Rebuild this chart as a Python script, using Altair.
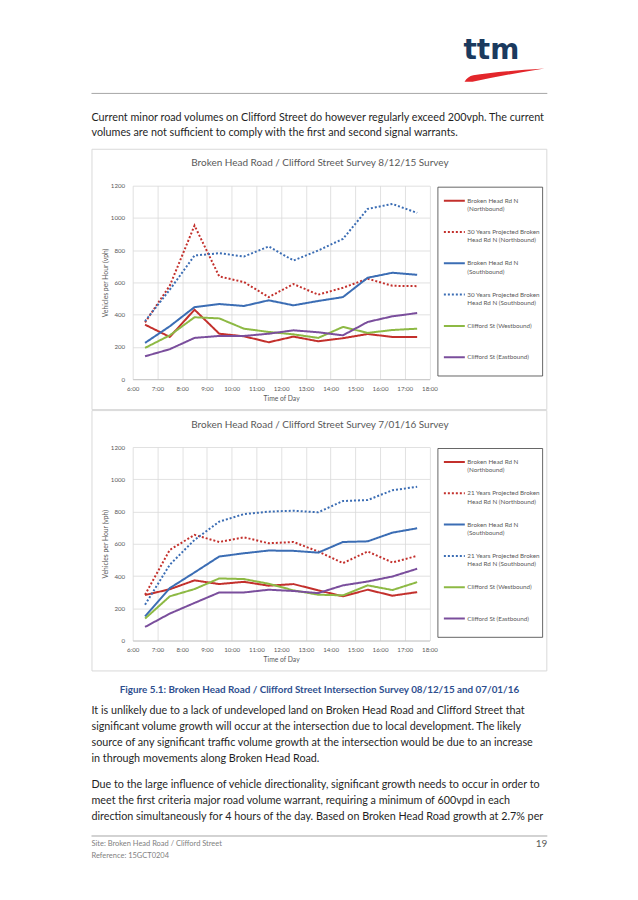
import altair as alt
import pandas as pd

# ---------------- data ----------------
times = [6.5, 7.5, 8.5, 9.5, 10.5, 11.5, 12.5, 13.5, 14.5, 15.5, 16.5, 17.5]
hour_ticks = list(range(6, 19))
vph_ticks = [0, 200, 400, 600, 800, 1000, 1200]

# Survey 8/12/15
s1_nb = [338, 262, 431, 282, 266, 229, 264, 235, 254, 280, 262, 262]
s1_nb_proj = [352, 580, 953, 637, 602, 509, 590, 524, 567, 623, 579, 577]
s1_sb = [225, 328, 447, 466, 454, 489, 458, 485, 509, 629, 660, 647]
s1_sb_proj = [360, 555, 767, 781, 761, 823, 736, 798, 870, 1056, 1087, 1031]
s1_wb = [194, 272, 384, 377, 313, 293, 278, 256, 324, 287, 305, 313]
s1_eb = [142, 186, 256, 268, 268, 282, 303, 291, 272, 355, 390, 410]

# Survey 7/01/16
s2_nb = [282, 318, 373, 350, 364, 340, 350, 311, 274, 315, 278, 300]
s2_nb_proj = [284, 562, 655, 611, 640, 603, 611, 552, 480, 552, 484, 525]
s2_sb = [150, 325, 422, 521, 541, 558, 556, 545, 611, 615, 669, 696]
s2_sb_proj = [222, 470, 624, 737, 784, 799, 805, 795, 865, 871, 932, 953]
s2_wb = [136, 274, 319, 385, 381, 352, 311, 284, 280, 342, 313, 362]
s2_eb = [84, 167, 233, 298, 298, 315, 307, 294, 342, 366, 397, 445]

names_1 = ["Broken Head Rd N|(Northbound)", "30 Years Projected Broken|Head Rd N (Northbound)",
           "Broken Head Rd N|(Southbound)", "30 Years Projected Broken|Head Rd N (Southbound)",
           "Clifford St (Westbound)|", "Clifford St (Eastbound)|"]
names_2 = ["Broken Head Rd N|(Northbound)", "21 Years Projected Broken|Head Rd N (Northbound)",
           "Broken Head Rd N|(Southbound)", "21 Years Projected Broken|Head Rd N (Southbound)",
           "Clifford St (Westbound)|", "Clifford St (Eastbound)|"]

title_1 = "Broken Head Road / Clifford Street Survey 8/12/15 Survey"
title_2 = "Broken Head Road / Clifford Street Survey 7/01/16 Survey"

header_lines = [
    "Current minor road volumes on Clifford Street do however regularly exceed 200vph. The current",
    "volumes are not sufficient to comply with the first and second signal warrants.",
]
caption = "Figure 5.1: Broken Head Road / Clifford Street Intersection Survey 08/12/15 and 07/01/16"
para1 = [
    "It is unlikely due to a lack of undeveloped land on Broken Head Road and Clifford Street that",
    "significant volume growth will occur at the intersection due to local development. The likely",
    "source of any significant traffic volume growth at the intersection would be due to an increase",
    "in through movements along Broken Head Road.",
]
para2 = [
    "Due to the large influence of vehicle directionality, significant growth needs to occur in order to",
    "meet the first criteria major road volume warrant, requiring a minimum of 600vpd in each",
    "direction simultaneously for 4 hours of the day. Based on Broken Head Road growth at 2.7% per",
]
footer_site = "Site: Broken Head Road / Clifford Street"
footer_ref = "Reference: 15GCT0204"
page_no = "19"

# ---------------- styles / layout ----------------
COLORS = ["#C3302C", "#C3302C", "#3B6DB4", "#3B6DB4", "#8DB944", "#7A4E9C"]
DASHES = [[1, 0], [2, 2], [1, 0], [2, 2], [1, 0], [1, 0]]
FONT = "Lato"
GREY = "#595959"
BODY = 10.8
PAGE_W = 622
PX, PY = 124.3, 37          # plot origin inside a chart panel (svg px)
PW, PH = 297.6, 194         # plot size
one = alt.Data(values=[{}])


def px(page_x):
    """page x -> x relative to the shared column origin"""
    return page_x - 8 - PX


def vtext(txt, x, y, size, color="#1f1f1f", align="left", weight="normal", font=FONT, baseline="middle"):
    return alt.Chart(one).mark_text(
        font=font, fontSize=size, color=color, align=align, fontWeight=weight, baseline=baseline
    ).encode(x=alt.value(x), y=alt.value(y), text=alt.value(txt))


def vrule(x1, x2, y, color):
    return alt.Chart(one).mark_rule(color=color, strokeWidth=1).encode(
        x=alt.value(x1), x2=alt.value(x2), y=alt.value(y))


def vrect(x1, x2, y1, y2, **kw):
    return alt.Chart(one).mark_rect(**kw).encode(
        x=alt.value(x1), x2=alt.value(x2), y=alt.value(y1), y2=alt.value(y2))


def bounds_rect(y1, y2):
    return vrect(-PX, PAGE_W - PX, y1, y2, fill="white", fillOpacity=0, strokeWidth=0)


def survey_chart(title, names, series):
    rows = []
    for name, vals in zip(names, series):
        for t, v in zip(times, vals):
            rows.append({"time": t, "vph": v, "series": name})
    df = pd.DataFrame(rows)
    legend = alt.Legend(
        orient="none", legendX=311, legendY=3.5, title=None,
        labelExpr="split(datum.label, '|')", labelFont=FONT, labelFontSize=6.3,
        labelColor=GREY, labelLimit=200, labelOffset=1.5,
        symbolType="stroke", symbolSize=441, symbolStrokeWidth=2,
        rowPadding=7.4, padding=0, direction="vertical",
    )
    lines = alt.Chart(df).mark_line(strokeWidth=2, strokeCap="butt").encode(
        x=alt.X("time:Q", scale=alt.Scale(domain=[6, 18], nice=False, zero=False),
                axis=alt.Axis(values=hour_ticks, labelExpr="floor(datum.value) + ':00'",
                              grid=True, gridColor="#D9D9D9", gridWidth=0.8,
                              domainColor="#BFBFBF", domainWidth=0.8, ticks=False,
                              labelPadding=6, labelFont=FONT, labelFontSize=6.2, labelColor=GREY,
                              labelFlush=False, labelOverlap=False,
                              title="Time of Day", titleFont=FONT, titleFontSize=6.8,
                              titleFontWeight="normal", titleColor=GREY,
                              titleX=PW / 2, titleY=19, titleAlign="center", titleBaseline="middle")),
        y=alt.Y("vph:Q", scale=alt.Scale(domain=[0, 1200], nice=False),
                axis=alt.Axis(values=vph_ticks, format="d", grid=True, gridColor="#D9D9D9", gridWidth=0.8,
                              domain=False, ticks=False, labelPadding=8, labelFont=FONT,
                              labelFontSize=6.2, labelColor=GREY,
                              title="Vehicles per Hour (vph)", titleFont=FONT, titleFontSize=6.8,
                              titleFontWeight="normal", titleColor=GREY,
                              titleX=-26.8, titleY=PH / 2, titleAngle=270,
                              titleAlign="center", titleBaseline="middle")),
        color=alt.Color("series:N", scale=alt.Scale(domain=names, range=COLORS), legend=legend),
        strokeDash=alt.StrokeDash("series:N", scale=alt.Scale(domain=names, range=DASHES), legend=legend),
    )
    frame = vrect(-40.8, 415.2, -36.5, 224.5, fill="white", fillOpacity=0, stroke="#D9D9D9", strokeWidth=1)
    lbox = vrect(306, 411, 1.5, 190.8, fill="white", fillOpacity=0, stroke="#404040", strokeWidth=0.8)
    ttl = vtext(title, 187.7, -22.5, 10, color=GREY, align="center")
    return alt.layer(bounds_rect(-PY, 262 - PY), frame, lbox, lines, ttl).properties(width=PW, height=PH)


# ---------------- header panel (page y 8..148) ----------------
header_layers = [
    bounds_rect(0, 140),
    vtext("ttm", px(464), 50, 28, color="#1B3A5E", weight="bold", font="DejaVu Sans", baseline="alphabetic"),
    alt.Chart(one).mark_point(
        shape="M -1 0.17 Q -0.92 0.04 -0.78 0.01 Q -0.3 -0.08 1 -0.165 Q 0.1 -0.02 -0.8 0.17 Z",
        filled=True, color="#E3262B", opacity=1, strokeWidth=0, size=6400,
    ).encode(x=alt.value(px(505)), y=alt.value(66)),
    vrule(px(91), px(548), 84.5, "#A6A6A6"),
]
for i, ln in enumerate(header_lines):
    header_layers.append(vtext(ln, px(91), 108.7 + i * 15.5, BODY))
header = alt.layer(*header_layers).properties(width=PW, height=140)

# ---------------- footer panel (page y 672..892) ----------------
footer_layers = [
    bounds_rect(0, 220),
    vtext(caption, px(319.5), 18.7, 9.9, color="#2E4F8F", align="center", weight="bold"),
]
for i, ln in enumerate(para1):
    footer_layers.append(vtext(ln, px(91), 39.7 + i * 16.1, BODY))
for i, ln in enumerate(para2):
    footer_layers.append(vtext(ln, px(91), 114 + i * 16.1, BODY))
footer_layers += [
    vrule(px(91), px(548), 165, "#A6A6A6"),
    vtext(footer_site, px(91), 173.5, 7.5, color="#7F7F7F"),
    vtext(footer_ref, px(91), 185, 7.5, color="#7F7F7F"),
    vtext(page_no, px(548), 173, 10, color=GREY, align="right"),
]
footer = alt.layer(*footer_layers).properties(width=PW, height=220)

chart1 = survey_chart(title_1, names_1, [s1_nb, s1_nb_proj, s1_sb, s1_sb_proj, s1_wb, s1_eb])
chart2 = survey_chart(title_2, names_2, [s2_nb, s2_nb_proj, s2_sb, s2_sb_proj, s2_wb, s2_eb])

chart = alt.vconcat(header, chart1, chart2, footer, spacing=0).resolve_scale(
    color="independent", strokeDash="independent", x="independent", y="independent"
).resolve_legend(color="independent", strokeDash="independent").properties(
    padding=0, background="white"
).configure_view(strokeWidth=0)

chart.save("out.html", embed_options={"renderer": "svg", "actions": False})
